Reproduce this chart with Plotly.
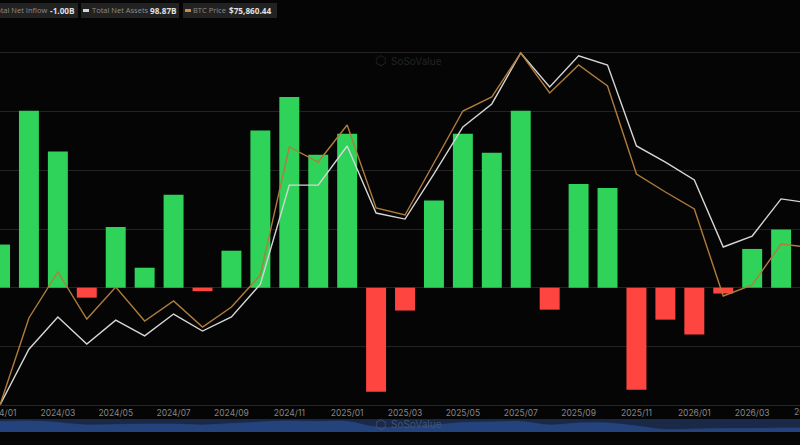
import plotly.graph_objects as go

months = ["2024/01","2024/02","2024/03","2024/04","2024/05","2024/06","2024/07","2024/08","2024/09","2024/10","2024/11","2024/12",
          "2025/01","2025/02","2025/03","2025/04","2025/05","2025/06","2025/07","2025/08","2025/09","2025/10","2025/11","2025/12",
          "2026/01","2026/02","2026/03","2026/04","2026/05"]
net_inflow = [1.47,6.03,4.64,-0.34,2.07,0.68,3.17,-0.12,1.26,5.36,6.5,4.53,5.25,-3.55,-0.78,2.97,5.25,4.6,6.03,-0.75,3.53,3.4,-3.48,-1.09,-1.6,-0.2,1.32,1.98,-1.0]
net_assets = [28.7,48.1,59.3,49.9,58.2,52.7,60.3,54.4,59.3,70.7,105.1,105.1,118.7,95.4,93.3,109,125.3,133.3,151,139.2,150,146.8,118.7,113.1,106.9,83.6,87.4,100.3,98.87]
btc_price = [43540,61375,70805,61170,67730,60760,64860,59530,63630,70190,96430,93355,100940,83925,82490,93150,103810,106680,115700,107500,113240,108935,90895,87205,83720,65885,68140,76545,75860]
slider_level = [10.5,11,9.5,7,7.5,8,8,7,8.5,10,11,10.5,10.5,5,5,7,9.5,10,10.5,7,9,9,6,2.5,3,3.5,3.5,4,4]
tick_months = months[0::2][:14]

GREEN, RED = "#2fd35a", "#ff453f"
WHITE, ORANGE = "#d6d6d6", "#b07c3c"
BG = "#050505"
W, H = 800, 445
TOP, BOTTOM = 50, 405
SL_TOP, SL_BOTTOM = 419, 432


def py(v):
    return 1 - v / H


fig = go.Figure()
fig.add_trace(go.Bar(x=months, y=net_inflow, width=0.69,
                     marker=dict(color=[GREEN if v >= 0 else RED for v in net_inflow], line_width=0),
                     yaxis="y"))
fig.add_trace(go.Scatter(x=months, y=btc_price, mode="lines", yaxis="y3",
                         line=dict(color=ORANGE, width=1.4)))
fig.add_trace(go.Scatter(x=months, y=net_assets, mode="lines", yaxis="y2",
                         line=dict(color=WHITE, width=1.4)))
fig.add_trace(go.Scatter(x=months, y=slider_level, mode="lines", xaxis="x2", yaxis="y4",
                         fill="tozeroy", fillcolor="#24427c",
                         line=dict(color="#2a4a86", width=0.5, shape="spline")))

x_range = [0, W / 28.93]
shapes = [
    dict(type="rect", xref="paper", yref="paper", x0=0, x1=1, y0=py(SL_BOTTOM), y1=py(SL_TOP),
         fillcolor="#1a2947", line_width=0, layer="below"),
]
annotations = []
# chip left, chip right, marker colour, label, value, label x, label anchor, value x
chips = [
    (0, 78, None, "Total Net Inflow", "-1.00B", 47, "right", 50),
    (81, 179, WHITE, "Total Net Assets", "98.87B", 92, "left", 150),
    (183, 277, "#c98f3f", "BTC Price", "$75,860.44", 193, "left", 229),
]
for x0, x1, mark, label, value, lx, anchor, vx in chips:
    shapes.append(dict(type="rect", xref="paper", yref="paper", x0=x0 / W, x1=x1 / W, y0=py(18), y1=py(3),
                       fillcolor="#222222", line_width=0, layer="below"))
    if mark:
        shapes.append(dict(type="rect", xref="paper", yref="paper", x0=(x0 + 2) / W, x1=(x0 + 8) / W,
                           y0=py(12), y1=py(9), fillcolor=mark, line_width=0))
    annotations.append(dict(xref="paper", yref="paper", x=lx / W, y=py(10.5), xanchor=anchor, yanchor="middle",
                            showarrow=False, borderpad=0, borderwidth=0, text=label,
                            font=dict(family="Open Sans", size=7.5, color="#8c8c8c")))
    annotations.append(dict(xref="paper", yref="paper", x=vx / W, y=py(10.5), xanchor="left", yanchor="middle",
                            showarrow=False, borderpad=0, borderwidth=0, text=f"<b>{value}</b>",
                            font=dict(family="Open Sans", size=8.2, color="#e0e0e0")))

for cy, col in [(61, "#232323"), (424, "#3f5478")]:
    annotations.append(dict(xref="paper", yref="paper", x=389 / W, y=py(cy), xanchor="left", yanchor="middle",
                            showarrow=False, text="SoSoValue", font=dict(family="Inter", size=10, color=col)))
    annotations.append(dict(xref="paper", yref="paper", x=380 / W, y=py(cy), xanchor="center", yanchor="middle",
                            showarrow=False, text="⬡", font=dict(family="DejaVu Sans", size=13, color=col)))
annotations.append(dict(xref="paper", yref="paper", x=811 / W, y=py(412), xanchor="center", yanchor="middle",
                        showarrow=False, text=months[28], font=dict(family="Inter", size=8.5, color="#858585")))

hidden = dict(showticklabels=False, showgrid=False, zeroline=False, ticks="")
plot_domain = [py(BOTTOM), py(TOP)]
fig.update_layout(
    width=W, height=H, margin=dict(l=0, r=0, t=0, b=0),
    autosize=False,
    paper_bgcolor=BG, plot_bgcolor=BG, showlegend=False, bargap=0.31,
    xaxis=dict(type="category", categoryorder="array", categoryarray=months, range=x_range,
               tickmode="array", tickvals=tick_months, ticktext=tick_months, ticks="",
               showgrid=False, zeroline=False, showline=True, linecolor="#262626", linewidth=1,
               tickfont=dict(family="Inter", size=8.5, color="#858585"),
               automargin=False),
    xaxis2=dict(type="category", categoryorder="array", categoryarray=months, range=x_range,
                anchor="y4", **hidden),
    yaxis=dict(range=[-4, 8.102], domain=plot_domain, tickmode="linear", tick0=0, dtick=2, showticklabels=False,
               ticks="", gridcolor="#232323", gridwidth=1, zeroline=False, automargin=False),
    yaxis2=dict(range=[28.7, 152.04], overlaying="y", **hidden),
    yaxis3=dict(range=[43540, 116315], overlaying="y", **hidden),
    yaxis4=dict(range=[0, SL_BOTTOM - SL_TOP], domain=[py(SL_BOTTOM), py(SL_TOP)], anchor="x2", **hidden),
    shapes=shapes, annotations=annotations,
)
fig.write_html("out.html", config={"displayModeBar": False},
               post_script="document.body.style.margin='0';document.body.style.overflow='hidden';document.body.style.background='#050505';")
